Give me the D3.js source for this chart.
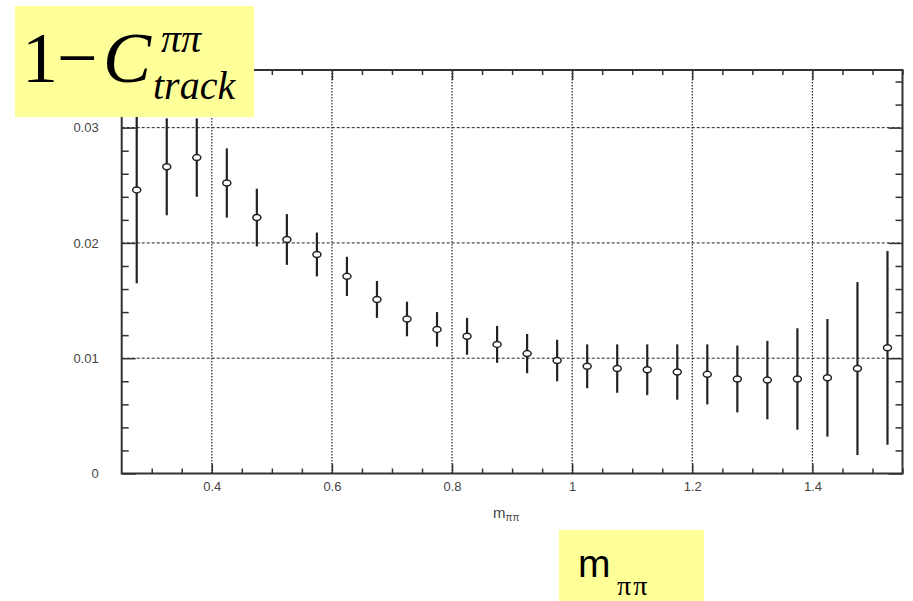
<!DOCTYPE html>
<html>
<head>
<meta charset="utf-8">
<script src="https://cdn.jsdelivr.net/npm/d3@7"></script>
<style>
  html, body { margin: 0; padding: 0; background: #fff; }
  svg { display: block; }
</style>
</head>
<body>
<svg id="chart" width="913" height="601"></svg>
<script>
// Bin centres of m_pipi (GeV), 0.05 wide bins
const binCenters = [0.275, 0.325, 0.375, 0.425, 0.475, 0.525, 0.575, 0.625, 0.675, 0.725,
                    0.775, 0.825, 0.875, 0.925, 0.975, 1.025, 1.075, 1.125, 1.175, 1.225,
                    1.275, 1.325, 1.375, 1.425, 1.475, 1.525];
// 1 - C_track per bin
const values = [0.0246, 0.0266, 0.0274, 0.0252, 0.0222, 0.0203, 0.0190, 0.0171, 0.0151, 0.0134,
                0.0125, 0.0119, 0.0112, 0.0104, 0.0098, 0.0093, 0.0091, 0.0090, 0.0088, 0.0086,
                0.0082, 0.0081, 0.0082, 0.0083, 0.0091, 0.0109];
// Symmetric statistical errors
const errors = [0.0081, 0.0042, 0.0034, 0.0030, 0.0025, 0.0022, 0.0019, 0.0017, 0.0016, 0.0015,
                0.0015, 0.0016, 0.0016, 0.0017, 0.0018, 0.0019, 0.0021, 0.0022, 0.0024, 0.0026,
                0.0029, 0.0034, 0.0044, 0.0051, 0.0075, 0.0084];

const xTickValues = [0.4, 0.6, 0.8, 1.0, 1.2, 1.4];
const xTickLabels = ["0.4", "0.6", "0.8", "1", "1.2", "1.4"];
const yTickValues = [0, 0.01, 0.02, 0.03];
const yTickLabels = ["0", "0.01", "0.02", "0.03"];

const svg = d3.select("#chart");
const frame = { left: 121.7, right: 902.5, top: 70, bottom: 473.5 };

const x = d3.scaleLinear().domain([0.25, 1.55]).range([frame.left, frame.right]);
const y = d3.scaleLinear().domain([0, 0.035]).range([frame.bottom, frame.top]);

const axisColor = "#333";
const g = svg.append("g");

// grid lines at major ticks
g.append("g").selectAll("line").data(xTickValues).join("line")
  .attr("x1", d => x(d)).attr("x2", d => x(d))
  .attr("y1", frame.top).attr("y2", frame.bottom)
  .attr("stroke", "#222").attr("stroke-width", 1.2)
  .attr("stroke-dasharray", "1.5,1.5");
g.append("g").selectAll("line").data(yTickValues.filter(v => v > 0)).join("line")
  .attr("x1", frame.left).attr("x2", frame.right)
  .attr("y1", d => y(d)).attr("y2", d => y(d))
  .attr("stroke", "#222").attr("stroke-width", 1)
  .attr("stroke-dasharray", "3,2");

// minor tick positions
const xMinor = d3.range(0.3, 1.551, 0.05).map(v => +v.toFixed(2)).filter(v => !xTickValues.some(t => Math.abs(t - v) < 1e-6));
const yMinor = d3.range(0.002, 0.0351, 0.002).map(v => +v.toFixed(3)).filter(v => !yTickValues.some(t => Math.abs(t - v) < 1e-6));

function styleTicks(sel) {
  sel.select(".domain").remove();
  sel.selectAll(".tick line").attr("stroke", axisColor).attr("stroke-width", 1.5);
}

// bottom axis (ticks pointing inward)
const gxb = g.append("g").attr("transform", `translate(0,${frame.bottom})`)
  .call(d3.axisBottom(x).tickValues(xTickValues).tickFormat((d, i) => xTickLabels[i]).tickSizeInner(-10).tickSizeOuter(0));
styleTicks(gxb);
gxb.selectAll(".tick text").attr("fill", "#444").attr("font-family", "Liberation Sans, Arial, sans-serif")
  .attr("font-size", 13).attr("dy", "0.35em").attr("y", 13);
styleTicks(g.append("g").attr("transform", `translate(0,${frame.bottom})`)
  .call(d3.axisBottom(x).tickValues(xMinor).tickFormat("").tickSizeInner(-5).tickSizeOuter(0)));

// top axis
styleTicks(g.append("g").attr("transform", `translate(0,${frame.top})`)
  .call(d3.axisTop(x).tickValues(xTickValues).tickFormat("").tickSizeInner(-10).tickSizeOuter(0)));
styleTicks(g.append("g").attr("transform", `translate(0,${frame.top})`)
  .call(d3.axisTop(x).tickValues(xMinor).tickFormat("").tickSizeInner(-5).tickSizeOuter(0)));

// left axis
const gyl = g.append("g").attr("transform", `translate(${frame.left},0)`)
  .call(d3.axisLeft(y).tickValues(yTickValues).tickFormat((d, i) => yTickLabels[i]).tickSizeInner(-14).tickSizeOuter(0));
styleTicks(gyl);
gyl.selectAll(".tick text").attr("fill", "#444").attr("font-family", "Liberation Sans, Arial, sans-serif")
  .attr("font-size", 13).attr("x", -23);
styleTicks(g.append("g").attr("transform", `translate(${frame.left},0)`)
  .call(d3.axisLeft(y).tickValues(yMinor).tickFormat("").tickSizeInner(-7).tickSizeOuter(0)));

// right axis
styleTicks(g.append("g").attr("transform", `translate(${frame.right},0)`)
  .call(d3.axisRight(y).tickValues(yTickValues).tickFormat("").tickSizeInner(-14).tickSizeOuter(0)));
styleTicks(g.append("g").attr("transform", `translate(${frame.right},0)`)
  .call(d3.axisRight(y).tickValues(yMinor).tickFormat("").tickSizeInner(-7).tickSizeOuter(0)));

// frame
g.append("rect")
  .attr("x", frame.left).attr("y", frame.top)
  .attr("width", frame.right - frame.left).attr("height", frame.bottom - frame.top)
  .attr("fill", "none").attr("stroke", axisColor).attr("stroke-width", 2);

// error bars
const pts = binCenters.map((c, i) => ({ c, v: values[i], e: errors[i] }));
g.append("g").selectAll("line").data(pts).join("line")
  .attr("x1", d => x(d.c)).attr("x2", d => x(d.c))
  .attr("y1", d => y(Math.min(d.v + d.e, 0.035))).attr("y2", d => y(Math.max(d.v - d.e, 0)))
  .attr("stroke", "#222").attr("stroke-width", 2.2);

// open markers
g.append("g").selectAll("ellipse").data(pts).join("ellipse")
  .attr("cx", d => x(d.c)).attr("cy", d => y(d.v))
  .attr("rx", 4).attr("ry", 3)
  .attr("fill", "#fff").attr("stroke", "#222").attr("stroke-width", 1.5);

// small axis title under the frame
const xt = g.append("text").attr("x", 493).attr("y", 518)
  .attr("font-family", "Liberation Sans, Arial, sans-serif").attr("font-size", 15).attr("fill", "#444");
xt.append("tspan").text("m");
xt.append("tspan").attr("font-size", 10).attr("dy", 3).text("ππ");

// highlighted y label
const serif = "Liberation Serif, Times New Roman, serif";
svg.append("rect").attr("x", 15).attr("y", 6).attr("width", 239).attr("height", 111).attr("fill", "#ffff99");
svg.append("text").attr("x", 22).attr("y", 82).attr("font-family", serif).attr("font-size", 72).text("1");
svg.append("text").attr("x", 57).attr("y", 82).attr("font-family", serif).attr("font-size", 72).text("−");
svg.append("text").attr("x", 103).attr("y", 82).attr("font-family", serif).attr("font-style", "italic")
  .attr("font-size", 72).text("C");
svg.append("text").attr("x", 161).attr("y", 52).attr("font-family", serif).attr("font-style", "italic")
  .attr("font-size", 40).text("ππ");
svg.append("text").attr("x", 153).attr("y", 99).attr("font-family", serif).attr("font-style", "italic")
  .attr("font-size", 40).text("track");

// highlighted x label
svg.append("rect").attr("x", 559).attr("y", 530).attr("width", 145).attr("height", 71).attr("fill", "#ffff99");
svg.append("text").attr("x", 578).attr("y", 577)
  .attr("font-family", "Liberation Sans, Arial, sans-serif").attr("font-size", 39).text("m");
svg.append("text").attr("x", 617).attr("y", 595).attr("font-family", serif)
  .attr("font-size", 28).attr("letter-spacing", 2).text("ππ");
</script>
</body>
</html>
